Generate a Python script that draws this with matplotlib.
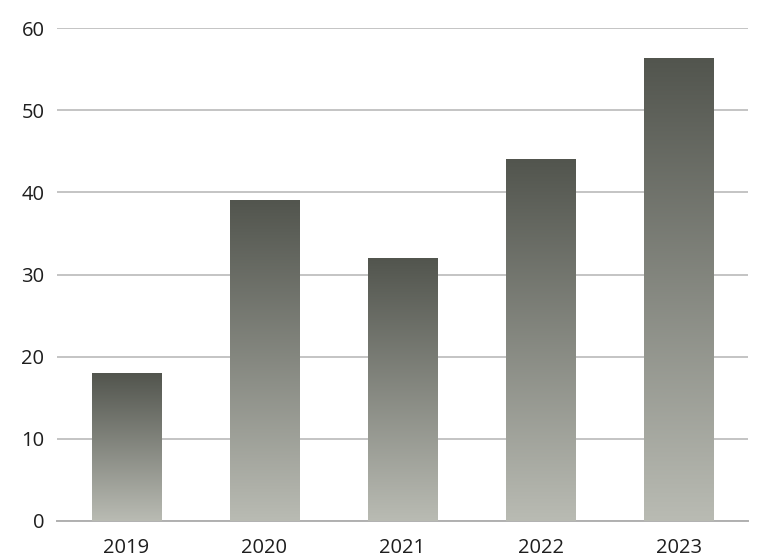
import matplotlib
matplotlib.use('Agg', force=True)

import numpy as np
import matplotlib.pyplot as plt
from matplotlib.colors import LinearSegmentedColormap

# data
years = ['2019', '2020', '2021', '2022', '2023']
values = [18, 39, 32, 44, 56.3]
yticks = [0, 10, 20, 30, 40, 50, 60]

plt.rcParams['font.family'] = ['Open Sans', 'DejaVu Sans']

fig = plt.figure(figsize=(7.66, 5.6), dpi=100)
ax = fig.add_axes([57 / 766, 1 - 521 / 560, (748 - 57) / 766, (521 - 28) / 560])

# gradient per bar: light at bottom, dark at top
cmap = LinearSegmentedColormap.from_list('bar', ['#b9bbb3', '#52554e'])
grad = np.linspace(0, 1, 256).reshape(-1, 1)
width = 0.5
for i, v in enumerate(values):
    ax.imshow(grad, cmap=cmap, origin='lower', aspect='auto',
              extent=(i - width / 2, i + width / 2, 0, v), zorder=3,
              interpolation='bicubic')

ax.set_xlim(-0.5, len(years) - 0.5)
ax.set_ylim(0, 60)
ax.set_yticks(yticks)
ax.set_xticks(range(len(years)))
ax.set_xticklabels(years)
ax.yaxis.grid(True, color='#c4c4c4', linewidth=1.4, zorder=0)
ax.set_axisbelow(True)
for s in ['top', 'right', 'left']:
    ax.spines[s].set_visible(False)
ax.spines['bottom'].set_color('#b0b0b0')
ax.spines['bottom'].set_linewidth(1.4)
ax.tick_params(axis='both', length=0, labelsize=14.5, colors='#1e1e1e')
ax.tick_params(axis='y', pad=9)
ax.tick_params(axis='x', pad=12)
for lbl in ax.get_xticklabels() + ax.get_yticklabels():
    lbl.set_fontweight('medium')

fig.savefig('out.png', dpi=100)
